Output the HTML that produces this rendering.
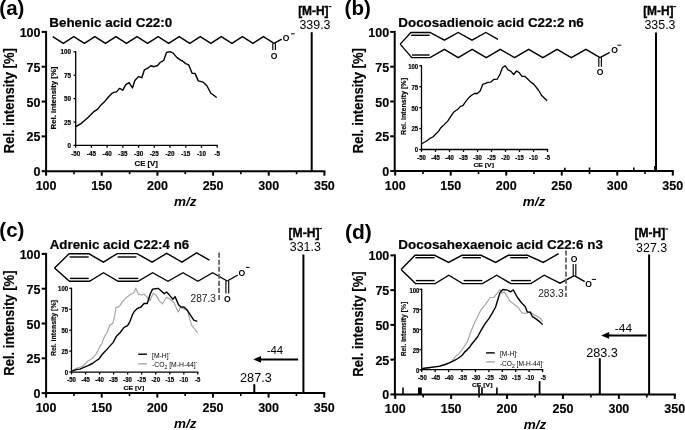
<!DOCTYPE html>
<html><head><meta charset="utf-8"><style>
html,body{margin:0;padding:0;background:#fff;}
svg{display:block;font-family:"Liberation Sans", sans-serif;will-change:transform;}
</style></head><body>
<svg width="685" height="430" viewBox="0 0 685 430">
<rect width="685" height="430" fill="#fff"/>
<text x="-0.70" y="15.30" font-size="20.5" text-anchor="start" font-weight="bold" font-style="normal" fill="#000" >(a)</text>
<text x="49.30" y="26.80" font-size="13.4" font-weight="bold" font-style="normal" fill="#000" textLength="122.95" lengthAdjust="spacingAndGlyphs" stroke="#000" stroke-width="0.2">Behenic acid C22:0</text>
<line x1="46.10" y1="30.90" x2="46.10" y2="172.20" stroke="#000" stroke-width="2.0" />
<line x1="41.60" y1="171.20" x2="46.10" y2="171.20" stroke="#000" stroke-width="2.0" />
<text x="40.50" y="176.20" font-size="12.5" text-anchor="end" font-weight="bold" font-style="normal" fill="#000" stroke="#000" stroke-width="0.15">0</text>
<line x1="41.60" y1="136.38" x2="46.10" y2="136.38" stroke="#000" stroke-width="2.0" />
<text x="40.50" y="141.38" font-size="12.5" text-anchor="end" font-weight="bold" font-style="normal" fill="#000" stroke="#000" stroke-width="0.15">25</text>
<line x1="41.60" y1="101.55" x2="46.10" y2="101.55" stroke="#000" stroke-width="2.0" />
<text x="40.50" y="106.55" font-size="12.5" text-anchor="end" font-weight="bold" font-style="normal" fill="#000" stroke="#000" stroke-width="0.15">50</text>
<line x1="41.60" y1="66.73" x2="46.10" y2="66.73" stroke="#000" stroke-width="2.0" />
<text x="40.50" y="71.73" font-size="12.5" text-anchor="end" font-weight="bold" font-style="normal" fill="#000" stroke="#000" stroke-width="0.15">75</text>
<line x1="41.60" y1="31.90" x2="46.10" y2="31.90" stroke="#000" stroke-width="2.0" />
<text x="40.50" y="36.90" font-size="12.5" text-anchor="end" font-weight="bold" font-style="normal" fill="#000" stroke="#000" stroke-width="0.15">100</text>
<line x1="45.10" y1="171.20" x2="325.40" y2="171.20" stroke="#000" stroke-width="2.0" />
<line x1="46.10" y1="171.20" x2="46.10" y2="175.70" stroke="#000" stroke-width="2.0" />
<text x="46.10" y="189.70" font-size="12.5" text-anchor="middle" font-weight="bold" font-style="normal" fill="#000" stroke="#000" stroke-width="0.15">100</text>
<line x1="73.93" y1="171.20" x2="73.93" y2="174.20" stroke="#000" stroke-width="1.6" />
<line x1="101.76" y1="171.20" x2="101.76" y2="175.70" stroke="#000" stroke-width="2.0" />
<text x="101.76" y="189.70" font-size="12.5" text-anchor="middle" font-weight="bold" font-style="normal" fill="#000" stroke="#000" stroke-width="0.15">150</text>
<line x1="129.59" y1="171.20" x2="129.59" y2="174.20" stroke="#000" stroke-width="1.6" />
<line x1="157.42" y1="171.20" x2="157.42" y2="175.70" stroke="#000" stroke-width="2.0" />
<text x="157.42" y="189.70" font-size="12.5" text-anchor="middle" font-weight="bold" font-style="normal" fill="#000" stroke="#000" stroke-width="0.15">200</text>
<line x1="185.25" y1="171.20" x2="185.25" y2="174.20" stroke="#000" stroke-width="1.6" />
<line x1="213.08" y1="171.20" x2="213.08" y2="175.70" stroke="#000" stroke-width="2.0" />
<text x="213.08" y="189.70" font-size="12.5" text-anchor="middle" font-weight="bold" font-style="normal" fill="#000" stroke="#000" stroke-width="0.15">250</text>
<line x1="240.91" y1="171.20" x2="240.91" y2="174.20" stroke="#000" stroke-width="1.6" />
<line x1="268.74" y1="171.20" x2="268.74" y2="175.70" stroke="#000" stroke-width="2.0" />
<text x="268.74" y="189.70" font-size="12.5" text-anchor="middle" font-weight="bold" font-style="normal" fill="#000" stroke="#000" stroke-width="0.15">300</text>
<line x1="296.57" y1="171.20" x2="296.57" y2="174.20" stroke="#000" stroke-width="1.6" />
<line x1="324.40" y1="171.20" x2="324.40" y2="175.70" stroke="#000" stroke-width="2.0" />
<text x="324.40" y="189.70" font-size="12.5" text-anchor="middle" font-weight="bold" font-style="normal" fill="#000" stroke="#000" stroke-width="0.15">350</text>
<text x="185.25" y="205.90" font-size="13.5" text-anchor="middle" font-weight="bold" font-style="italic" fill="#000" >m/z</text>
<text x="-153.28" y="14.20" font-size="14" font-weight="bold" font-style="normal" fill="#000" textLength="105.09" lengthAdjust="spacingAndGlyphs" transform="rotate(-90)" stroke="#000" stroke-width="0.15">Rel. intensity [%]</text>
<polyline points="52.7,36.6 63.3,43.3 73.8,36.6 84.4,43.3 94.9,36.6 105.5,43.3 115.9,36.6 126.5,43.3 137.0,36.6 147.6,43.3 158.1,36.6 168.7,43.3 179.2,36.6 189.8,43.3 200.3,36.6 210.9,43.3 221.3,36.6 231.9,43.3 242.4,36.6 253.0,43.3 263.5,36.6 274.1,43.3" fill="none" stroke="#000" stroke-width="1.4" />
<line x1="272.80" y1="43.30" x2="272.80" y2="50.10" stroke="#000" stroke-width="1.15" />
<line x1="275.40" y1="43.30" x2="275.40" y2="50.10" stroke="#000" stroke-width="1.15" />
<line x1="274.10" y1="43.30" x2="281.70" y2="39.10" stroke="#000" stroke-width="1.4" />
<text x="274.10" y="59.00" font-size="8.6" text-anchor="middle" font-weight="bold" font-style="normal" fill="#000" >O</text>
<text x="286.00" y="41.00" font-size="8.6" text-anchor="middle" font-weight="bold" font-style="normal" fill="#000" >O</text>
<line x1="291.00" y1="33.80" x2="294.70" y2="33.80" stroke="#000" stroke-width="1.0" />
<line x1="311.70" y1="32.20" x2="311.70" y2="171.10" stroke="#000" stroke-width="2.0" />
<text x="298.14" y="15.30" font-size="12.3" font-weight="bold" font-style="normal" fill="#000" textLength="30.43" lengthAdjust="spacingAndGlyphs" stroke="#000" stroke-width="0.35">[M-H]</text>
<line x1="328.60" y1="6.60" x2="331.40" y2="6.60" stroke="#000" stroke-width="1.1" />
<text x="299.43" y="28.80" font-size="12" font-weight="normal" font-style="normal" fill="#000" textLength="31.09" lengthAdjust="spacingAndGlyphs" >339.3</text>
<line x1="75.70" y1="51.20" x2="75.70" y2="146.00" stroke="#000" stroke-width="1.3" />
<line x1="73.50" y1="145.40" x2="75.70" y2="145.40" stroke="#000" stroke-width="1.3" />
<text x="71.00" y="147.99" font-size="7.0" text-anchor="end" font-weight="bold" fill="#000" textLength="3.50" lengthAdjust="spacingAndGlyphs" stroke="#000" stroke-width="0.2">0</text>
<line x1="73.50" y1="122.00" x2="75.70" y2="122.00" stroke="#000" stroke-width="1.3" />
<text x="71.00" y="124.59" font-size="7.0" text-anchor="end" font-weight="bold" fill="#000" textLength="7.01" lengthAdjust="spacingAndGlyphs" stroke="#000" stroke-width="0.2">25</text>
<line x1="73.50" y1="98.60" x2="75.70" y2="98.60" stroke="#000" stroke-width="1.3" />
<text x="71.00" y="101.19" font-size="7.0" text-anchor="end" font-weight="bold" fill="#000" textLength="7.01" lengthAdjust="spacingAndGlyphs" stroke="#000" stroke-width="0.2">50</text>
<line x1="73.50" y1="75.20" x2="75.70" y2="75.20" stroke="#000" stroke-width="1.3" />
<text x="71.00" y="77.79" font-size="7.0" text-anchor="end" font-weight="bold" fill="#000" textLength="7.01" lengthAdjust="spacingAndGlyphs" stroke="#000" stroke-width="0.2">75</text>
<line x1="73.50" y1="51.80" x2="75.70" y2="51.80" stroke="#000" stroke-width="1.3" />
<text x="71.00" y="54.39" font-size="7.0" text-anchor="end" font-weight="bold" fill="#000" textLength="10.51" lengthAdjust="spacingAndGlyphs" stroke="#000" stroke-width="0.2">100</text>
<line x1="75.10" y1="145.40" x2="217.80" y2="145.40" stroke="#000" stroke-width="1.3" />
<line x1="75.70" y1="145.40" x2="75.70" y2="147.80" stroke="#000" stroke-width="1.3" />
<text x="75.70" y="156.00" font-size="7.0" text-anchor="middle" font-weight="bold" fill="#000" textLength="9.11" lengthAdjust="spacingAndGlyphs" stroke="#000" stroke-width="0.2">-50</text>
<line x1="91.42" y1="145.40" x2="91.42" y2="147.80" stroke="#000" stroke-width="1.3" />
<text x="91.42" y="156.00" font-size="7.0" text-anchor="middle" font-weight="bold" fill="#000" textLength="9.11" lengthAdjust="spacingAndGlyphs" stroke="#000" stroke-width="0.2">-45</text>
<line x1="107.14" y1="145.40" x2="107.14" y2="147.80" stroke="#000" stroke-width="1.3" />
<text x="107.14" y="156.00" font-size="7.0" text-anchor="middle" font-weight="bold" fill="#000" textLength="9.11" lengthAdjust="spacingAndGlyphs" stroke="#000" stroke-width="0.2">-40</text>
<line x1="122.87" y1="145.40" x2="122.87" y2="147.80" stroke="#000" stroke-width="1.3" />
<text x="122.87" y="156.00" font-size="7.0" text-anchor="middle" font-weight="bold" fill="#000" textLength="9.11" lengthAdjust="spacingAndGlyphs" stroke="#000" stroke-width="0.2">-35</text>
<line x1="138.59" y1="145.40" x2="138.59" y2="147.80" stroke="#000" stroke-width="1.3" />
<text x="138.59" y="156.00" font-size="7.0" text-anchor="middle" font-weight="bold" fill="#000" textLength="9.11" lengthAdjust="spacingAndGlyphs" stroke="#000" stroke-width="0.2">-30</text>
<line x1="154.31" y1="145.40" x2="154.31" y2="147.80" stroke="#000" stroke-width="1.3" />
<text x="154.31" y="156.00" font-size="7.0" text-anchor="middle" font-weight="bold" fill="#000" textLength="9.11" lengthAdjust="spacingAndGlyphs" stroke="#000" stroke-width="0.2">-25</text>
<line x1="170.03" y1="145.40" x2="170.03" y2="147.80" stroke="#000" stroke-width="1.3" />
<text x="170.03" y="156.00" font-size="7.0" text-anchor="middle" font-weight="bold" fill="#000" textLength="9.11" lengthAdjust="spacingAndGlyphs" stroke="#000" stroke-width="0.2">-20</text>
<line x1="185.76" y1="145.40" x2="185.76" y2="147.80" stroke="#000" stroke-width="1.3" />
<text x="185.76" y="156.00" font-size="7.0" text-anchor="middle" font-weight="bold" fill="#000" textLength="9.11" lengthAdjust="spacingAndGlyphs" stroke="#000" stroke-width="0.2">-15</text>
<line x1="201.48" y1="145.40" x2="201.48" y2="147.80" stroke="#000" stroke-width="1.3" />
<text x="201.48" y="156.00" font-size="7.0" text-anchor="middle" font-weight="bold" fill="#000" textLength="9.11" lengthAdjust="spacingAndGlyphs" stroke="#000" stroke-width="0.2">-10</text>
<line x1="217.20" y1="145.40" x2="217.20" y2="147.80" stroke="#000" stroke-width="1.3" />
<text x="217.20" y="156.00" font-size="7.0" text-anchor="middle" font-weight="bold" fill="#000" textLength="5.60" lengthAdjust="spacingAndGlyphs" stroke="#000" stroke-width="0.2">-5</text>
<text x="134.49" y="165.80" font-size="7.5" font-weight="bold" font-style="normal" fill="#000" textLength="23.44" lengthAdjust="spacingAndGlyphs" stroke="#000" stroke-width="0.15">CE [V]</text>
<text x="-129.43" y="56.30" font-size="7.5" font-weight="bold" font-style="normal" fill="#000" textLength="62.85" lengthAdjust="spacingAndGlyphs" transform="rotate(-90)" stroke="#000" stroke-width="0.15">Rel. intensity [%]</text>
<polyline points="75.9,126.7 81.4,123.3 88.0,117.4 93.5,111.9 97.7,109.1 101.0,104.9 104.7,101.6 108.4,97.0 112.1,93.3 113.7,92.4 116.5,91.9 119.5,88.4 122.8,90.2 125.8,84.7 129.1,82.6 132.5,87.9 134.9,80.5 138.4,76.6 141.8,77.7 144.4,69.8 147.7,68.2 150.9,65.8 154.2,66.7 157.6,65.5 160.1,62.5 163.7,60.4 166.5,52.4 169.7,51.7 172.9,52.9 176.8,57.4 180.6,60.1 182.5,61.0 185.7,63.6 188.7,64.8 192.1,73.2 195.0,73.4 198.3,80.9 203.0,82.1 206.9,85.7 210.7,93.0 216.7,97.5" fill="none" stroke="#000" stroke-width="1.4" stroke-linejoin="round"/>
<text x="344.60" y="15.30" font-size="20.5" text-anchor="start" font-weight="bold" font-style="normal" fill="#000" >(b)</text>
<text x="398.30" y="26.80" font-size="13.4" font-weight="bold" font-style="normal" fill="#000" textLength="185.49" lengthAdjust="spacingAndGlyphs" stroke="#000" stroke-width="0.2">Docosadienoic acid C22:2 n6</text>
<line x1="394.70" y1="30.90" x2="394.70" y2="172.10" stroke="#000" stroke-width="2.0" />
<line x1="390.20" y1="171.10" x2="394.70" y2="171.10" stroke="#000" stroke-width="2.0" />
<text x="389.10" y="176.10" font-size="12.5" text-anchor="end" font-weight="bold" font-style="normal" fill="#000" stroke="#000" stroke-width="0.15">0</text>
<line x1="390.20" y1="136.30" x2="394.70" y2="136.30" stroke="#000" stroke-width="2.0" />
<text x="389.10" y="141.30" font-size="12.5" text-anchor="end" font-weight="bold" font-style="normal" fill="#000" stroke="#000" stroke-width="0.15">25</text>
<line x1="390.20" y1="101.50" x2="394.70" y2="101.50" stroke="#000" stroke-width="2.0" />
<text x="389.10" y="106.50" font-size="12.5" text-anchor="end" font-weight="bold" font-style="normal" fill="#000" stroke="#000" stroke-width="0.15">50</text>
<line x1="390.20" y1="66.70" x2="394.70" y2="66.70" stroke="#000" stroke-width="2.0" />
<text x="389.10" y="71.70" font-size="12.5" text-anchor="end" font-weight="bold" font-style="normal" fill="#000" stroke="#000" stroke-width="0.15">75</text>
<line x1="390.20" y1="31.90" x2="394.70" y2="31.90" stroke="#000" stroke-width="2.0" />
<text x="389.10" y="36.90" font-size="12.5" text-anchor="end" font-weight="bold" font-style="normal" fill="#000" stroke="#000" stroke-width="0.15">100</text>
<line x1="394.20" y1="171.10" x2="673.80" y2="171.10" stroke="#000" stroke-width="2.0" />
<line x1="395.20" y1="171.10" x2="395.20" y2="175.60" stroke="#000" stroke-width="2.0" />
<text x="395.20" y="189.60" font-size="12.5" text-anchor="middle" font-weight="bold" font-style="normal" fill="#000" stroke="#000" stroke-width="0.15">100</text>
<line x1="422.96" y1="171.10" x2="422.96" y2="174.10" stroke="#000" stroke-width="1.6" />
<line x1="450.72" y1="171.10" x2="450.72" y2="175.60" stroke="#000" stroke-width="2.0" />
<text x="450.72" y="189.60" font-size="12.5" text-anchor="middle" font-weight="bold" font-style="normal" fill="#000" stroke="#000" stroke-width="0.15">150</text>
<line x1="478.48" y1="171.10" x2="478.48" y2="174.10" stroke="#000" stroke-width="1.6" />
<line x1="506.24" y1="171.10" x2="506.24" y2="175.60" stroke="#000" stroke-width="2.0" />
<text x="506.24" y="189.60" font-size="12.5" text-anchor="middle" font-weight="bold" font-style="normal" fill="#000" stroke="#000" stroke-width="0.15">200</text>
<line x1="534.00" y1="171.10" x2="534.00" y2="174.10" stroke="#000" stroke-width="1.6" />
<line x1="561.76" y1="171.10" x2="561.76" y2="175.60" stroke="#000" stroke-width="2.0" />
<text x="561.76" y="189.60" font-size="12.5" text-anchor="middle" font-weight="bold" font-style="normal" fill="#000" stroke="#000" stroke-width="0.15">250</text>
<line x1="589.52" y1="171.10" x2="589.52" y2="174.10" stroke="#000" stroke-width="1.6" />
<line x1="617.28" y1="171.10" x2="617.28" y2="175.60" stroke="#000" stroke-width="2.0" />
<text x="617.28" y="189.60" font-size="12.5" text-anchor="middle" font-weight="bold" font-style="normal" fill="#000" stroke="#000" stroke-width="0.15">300</text>
<line x1="645.04" y1="171.10" x2="645.04" y2="174.10" stroke="#000" stroke-width="1.6" />
<line x1="672.80" y1="171.10" x2="672.80" y2="175.60" stroke="#000" stroke-width="2.0" />
<text x="672.80" y="189.60" font-size="12.5" text-anchor="middle" font-weight="bold" font-style="normal" fill="#000" stroke="#000" stroke-width="0.15">350</text>
<text x="534.00" y="205.80" font-size="13.5" text-anchor="middle" font-weight="bold" font-style="italic" fill="#000" >m/z</text>
<text x="-153.28" y="363.10" font-size="14" font-weight="bold" font-style="normal" fill="#000" textLength="105.09" lengthAdjust="spacingAndGlyphs" transform="rotate(-90)" stroke="#000" stroke-width="0.15">Rel. intensity [%]</text>
<polyline points="400.2,44.1 410.9,32.5 430.0,32.5 444.4,40.1 458.2,32.5 472.0,40.1 485.8,32.5 498.0,39.4" fill="none" stroke="#000" stroke-width="1.4" />
<line x1="411.20" y1="35.30" x2="429.60" y2="35.30" stroke="#000" stroke-width="1.4" />
<polyline points="400.2,44.1 411.8,57.6 430.0,57.6 444.4,49.3 458.2,57.6 472.2,49.3 486.2,57.6 500.3,49.3 514.5,57.6 528.7,49.3 542.9,57.6 557.1,49.3 571.3,57.6 585.9,49.3 600.1,57.6" fill="none" stroke="#000" stroke-width="1.4" />
<line x1="412.00" y1="55.00" x2="429.60" y2="55.00" stroke="#000" stroke-width="1.4" />
<line x1="598.80" y1="57.60" x2="598.80" y2="66.80" stroke="#000" stroke-width="1.15" />
<line x1="601.40" y1="57.60" x2="601.40" y2="66.80" stroke="#000" stroke-width="1.15" />
<line x1="600.10" y1="57.60" x2="609.70" y2="52.30" stroke="#000" stroke-width="1.4" />
<text x="600.10" y="75.00" font-size="8.6" text-anchor="middle" font-weight="bold" font-style="normal" fill="#000" >O</text>
<text x="614.50" y="53.20" font-size="8.6" text-anchor="middle" font-weight="bold" font-style="normal" fill="#000" >O</text>
<line x1="617.40" y1="45.20" x2="621.20" y2="45.20" stroke="#000" stroke-width="1.0" />
<line x1="656.00" y1="32.60" x2="656.00" y2="171.00" stroke="#000" stroke-width="2.0" />
<line x1="564.90" y1="167.70" x2="564.90" y2="171.00" stroke="#000" stroke-width="1.6" />
<line x1="589.50" y1="167.50" x2="589.50" y2="171.00" stroke="#000" stroke-width="1.6" />
<line x1="633.80" y1="167.40" x2="633.80" y2="171.00" stroke="#000" stroke-width="1.6" />
<line x1="654.70" y1="166.00" x2="654.70" y2="171.00" stroke="#000" stroke-width="1.2" />
<text x="643.14" y="15.30" font-size="12.3" font-weight="bold" font-style="normal" fill="#000" textLength="30.43" lengthAdjust="spacingAndGlyphs" stroke="#000" stroke-width="0.35">[M-H]</text>
<line x1="673.20" y1="6.60" x2="676.00" y2="6.60" stroke="#000" stroke-width="1.1" />
<text x="644.43" y="28.80" font-size="12" font-weight="normal" font-style="normal" fill="#000" textLength="31.09" lengthAdjust="spacingAndGlyphs" >335.3</text>
<line x1="421.50" y1="65.20" x2="421.50" y2="150.10" stroke="#000" stroke-width="1.3" />
<line x1="419.30" y1="149.50" x2="421.50" y2="149.50" stroke="#000" stroke-width="1.3" />
<text x="418.20" y="152.36" font-size="6.8" text-anchor="end" font-weight="bold" fill="#000" textLength="3.33" lengthAdjust="spacingAndGlyphs" stroke="#000" stroke-width="0.2">0</text>
<line x1="419.30" y1="128.57" x2="421.50" y2="128.57" stroke="#000" stroke-width="1.3" />
<text x="418.20" y="131.43" font-size="6.8" text-anchor="end" font-weight="bold" fill="#000" textLength="6.66" lengthAdjust="spacingAndGlyphs" stroke="#000" stroke-width="0.2">25</text>
<line x1="419.30" y1="107.65" x2="421.50" y2="107.65" stroke="#000" stroke-width="1.3" />
<text x="418.20" y="110.51" font-size="6.8" text-anchor="end" font-weight="bold" fill="#000" textLength="6.66" lengthAdjust="spacingAndGlyphs" stroke="#000" stroke-width="0.2">50</text>
<line x1="419.30" y1="86.72" x2="421.50" y2="86.72" stroke="#000" stroke-width="1.3" />
<text x="418.20" y="89.58" font-size="6.8" text-anchor="end" font-weight="bold" fill="#000" textLength="6.66" lengthAdjust="spacingAndGlyphs" stroke="#000" stroke-width="0.2">75</text>
<line x1="419.30" y1="65.80" x2="421.50" y2="65.80" stroke="#000" stroke-width="1.3" />
<text x="418.20" y="68.66" font-size="6.8" text-anchor="end" font-weight="bold" fill="#000" textLength="9.98" lengthAdjust="spacingAndGlyphs" stroke="#000" stroke-width="0.2">100</text>
<line x1="420.90" y1="149.50" x2="548.10" y2="149.50" stroke="#000" stroke-width="1.3" />
<line x1="421.50" y1="149.50" x2="421.50" y2="151.90" stroke="#000" stroke-width="1.3" />
<text x="421.50" y="159.60" font-size="6.8" text-anchor="middle" font-weight="bold" fill="#000" textLength="8.65" lengthAdjust="spacingAndGlyphs" stroke="#000" stroke-width="0.2">-50</text>
<line x1="435.50" y1="149.50" x2="435.50" y2="151.90" stroke="#000" stroke-width="1.3" />
<text x="435.50" y="159.60" font-size="6.8" text-anchor="middle" font-weight="bold" fill="#000" textLength="8.65" lengthAdjust="spacingAndGlyphs" stroke="#000" stroke-width="0.2">-45</text>
<line x1="449.50" y1="149.50" x2="449.50" y2="151.90" stroke="#000" stroke-width="1.3" />
<text x="449.50" y="159.60" font-size="6.8" text-anchor="middle" font-weight="bold" fill="#000" textLength="8.65" lengthAdjust="spacingAndGlyphs" stroke="#000" stroke-width="0.2">-40</text>
<line x1="463.50" y1="149.50" x2="463.50" y2="151.90" stroke="#000" stroke-width="1.3" />
<text x="463.50" y="159.60" font-size="6.8" text-anchor="middle" font-weight="bold" fill="#000" textLength="8.65" lengthAdjust="spacingAndGlyphs" stroke="#000" stroke-width="0.2">-35</text>
<line x1="477.50" y1="149.50" x2="477.50" y2="151.90" stroke="#000" stroke-width="1.3" />
<text x="477.50" y="159.60" font-size="6.8" text-anchor="middle" font-weight="bold" fill="#000" textLength="8.65" lengthAdjust="spacingAndGlyphs" stroke="#000" stroke-width="0.2">-30</text>
<line x1="491.50" y1="149.50" x2="491.50" y2="151.90" stroke="#000" stroke-width="1.3" />
<text x="491.50" y="159.60" font-size="6.8" text-anchor="middle" font-weight="bold" fill="#000" textLength="8.65" lengthAdjust="spacingAndGlyphs" stroke="#000" stroke-width="0.2">-25</text>
<line x1="505.50" y1="149.50" x2="505.50" y2="151.90" stroke="#000" stroke-width="1.3" />
<text x="505.50" y="159.60" font-size="6.8" text-anchor="middle" font-weight="bold" fill="#000" textLength="8.65" lengthAdjust="spacingAndGlyphs" stroke="#000" stroke-width="0.2">-20</text>
<line x1="519.50" y1="149.50" x2="519.50" y2="151.90" stroke="#000" stroke-width="1.3" />
<text x="519.50" y="159.60" font-size="6.8" text-anchor="middle" font-weight="bold" fill="#000" textLength="8.65" lengthAdjust="spacingAndGlyphs" stroke="#000" stroke-width="0.2">-15</text>
<line x1="533.50" y1="149.50" x2="533.50" y2="151.90" stroke="#000" stroke-width="1.3" />
<text x="533.50" y="159.60" font-size="6.8" text-anchor="middle" font-weight="bold" fill="#000" textLength="8.65" lengthAdjust="spacingAndGlyphs" stroke="#000" stroke-width="0.2">-10</text>
<line x1="547.50" y1="149.50" x2="547.50" y2="151.90" stroke="#000" stroke-width="1.3" />
<text x="547.50" y="159.60" font-size="6.8" text-anchor="middle" font-weight="bold" fill="#000" textLength="5.32" lengthAdjust="spacingAndGlyphs" stroke="#000" stroke-width="0.2">-5</text>
<text x="473.43" y="167.20" font-size="6.2" font-weight="bold" font-style="normal" fill="#000" textLength="20.55" lengthAdjust="spacingAndGlyphs" stroke="#000" stroke-width="0.15">CE [V]</text>
<text x="-134.98" y="405.60" font-size="6.8" font-weight="bold" font-style="normal" fill="#000" textLength="56.96" lengthAdjust="spacingAndGlyphs" transform="rotate(-90)" stroke="#000" stroke-width="0.15">Rel. intensity [%]</text>
<polyline points="421.7,143.8 425.8,141.5 429.9,138.4 432.8,137.0 436.3,133.5 438.6,131.2 440.9,127.7 444.4,124.4 447.9,120.9 450.8,116.3 453.7,112.2 455.5,110.7 457.8,109.3 460.5,106.4 462.9,105.7 465.8,101.3 468.7,97.8 471.6,95.2 474.5,93.5 477.4,93.5 480.3,90.8 482.7,84.4 485.0,83.6 487.9,82.3 490.8,82.1 493.7,79.5 497.2,79.2 500.1,74.0 502.4,67.8 505.2,65.8 508.1,69.9 511.0,71.4 513.7,74.5 516.5,71.0 519.2,72.6 521.9,76.3 524.7,76.3 527.9,79.2 530.8,82.1 533.7,84.1 538.4,90.0 541.9,95.8 547.1,100.7" fill="none" stroke="#000" stroke-width="1.3" stroke-linejoin="round"/>
<text x="-0.70" y="237.20" font-size="20.5" text-anchor="start" font-weight="bold" font-style="normal" fill="#000" >(c)</text>
<text x="49.67" y="248.80" font-size="13.4" font-weight="bold" font-style="normal" fill="#000" textLength="139.62" lengthAdjust="spacingAndGlyphs" stroke="#000" stroke-width="0.2">Adrenic acid C22:4 n6</text>
<line x1="46.10" y1="252.90" x2="46.10" y2="394.10" stroke="#000" stroke-width="2.0" />
<line x1="41.60" y1="393.10" x2="46.10" y2="393.10" stroke="#000" stroke-width="2.0" />
<text x="40.50" y="398.10" font-size="12.5" text-anchor="end" font-weight="bold" font-style="normal" fill="#000" stroke="#000" stroke-width="0.15">0</text>
<line x1="41.60" y1="358.30" x2="46.10" y2="358.30" stroke="#000" stroke-width="2.0" />
<text x="40.50" y="363.30" font-size="12.5" text-anchor="end" font-weight="bold" font-style="normal" fill="#000" stroke="#000" stroke-width="0.15">25</text>
<line x1="41.60" y1="323.50" x2="46.10" y2="323.50" stroke="#000" stroke-width="2.0" />
<text x="40.50" y="328.50" font-size="12.5" text-anchor="end" font-weight="bold" font-style="normal" fill="#000" stroke="#000" stroke-width="0.15">50</text>
<line x1="41.60" y1="288.70" x2="46.10" y2="288.70" stroke="#000" stroke-width="2.0" />
<text x="40.50" y="293.70" font-size="12.5" text-anchor="end" font-weight="bold" font-style="normal" fill="#000" stroke="#000" stroke-width="0.15">75</text>
<line x1="41.60" y1="253.90" x2="46.10" y2="253.90" stroke="#000" stroke-width="2.0" />
<text x="40.50" y="258.90" font-size="12.5" text-anchor="end" font-weight="bold" font-style="normal" fill="#000" stroke="#000" stroke-width="0.15">100</text>
<line x1="45.10" y1="393.10" x2="325.20" y2="393.10" stroke="#000" stroke-width="2.0" />
<line x1="46.10" y1="393.10" x2="46.10" y2="397.60" stroke="#000" stroke-width="2.0" />
<text x="46.10" y="411.60" font-size="12.5" text-anchor="middle" font-weight="bold" font-style="normal" fill="#000" stroke="#000" stroke-width="0.15">100</text>
<line x1="73.91" y1="393.10" x2="73.91" y2="396.10" stroke="#000" stroke-width="1.6" />
<line x1="101.72" y1="393.10" x2="101.72" y2="397.60" stroke="#000" stroke-width="2.0" />
<text x="101.72" y="411.60" font-size="12.5" text-anchor="middle" font-weight="bold" font-style="normal" fill="#000" stroke="#000" stroke-width="0.15">150</text>
<line x1="129.53" y1="393.10" x2="129.53" y2="396.10" stroke="#000" stroke-width="1.6" />
<line x1="157.34" y1="393.10" x2="157.34" y2="397.60" stroke="#000" stroke-width="2.0" />
<text x="157.34" y="411.60" font-size="12.5" text-anchor="middle" font-weight="bold" font-style="normal" fill="#000" stroke="#000" stroke-width="0.15">200</text>
<line x1="185.15" y1="393.10" x2="185.15" y2="396.10" stroke="#000" stroke-width="1.6" />
<line x1="212.96" y1="393.10" x2="212.96" y2="397.60" stroke="#000" stroke-width="2.0" />
<text x="212.96" y="411.60" font-size="12.5" text-anchor="middle" font-weight="bold" font-style="normal" fill="#000" stroke="#000" stroke-width="0.15">250</text>
<line x1="240.77" y1="393.10" x2="240.77" y2="396.10" stroke="#000" stroke-width="1.6" />
<line x1="268.58" y1="393.10" x2="268.58" y2="397.60" stroke="#000" stroke-width="2.0" />
<text x="268.58" y="411.60" font-size="12.5" text-anchor="middle" font-weight="bold" font-style="normal" fill="#000" stroke="#000" stroke-width="0.15">300</text>
<line x1="296.39" y1="393.10" x2="296.39" y2="396.10" stroke="#000" stroke-width="1.6" />
<line x1="324.20" y1="393.10" x2="324.20" y2="397.60" stroke="#000" stroke-width="2.0" />
<text x="324.20" y="411.60" font-size="12.5" text-anchor="middle" font-weight="bold" font-style="normal" fill="#000" stroke="#000" stroke-width="0.15">350</text>
<text x="185.15" y="427.80" font-size="13.5" text-anchor="middle" font-weight="bold" font-style="italic" fill="#000" >m/z</text>
<text x="-375.78" y="14.20" font-size="14" font-weight="bold" font-style="normal" fill="#000" textLength="105.29" lengthAdjust="spacingAndGlyphs" transform="rotate(-90)" stroke="#000" stroke-width="0.15">Rel. intensity [%]</text>
<polyline points="54.5,267.9 69.1,253.8 89.1,253.8 103.4,262.2 117.2,253.6 137.0,253.6 152.1,262.2 166.7,253.3 182.0,262.2 196.6,252.8 209.4,260.2" fill="none" stroke="#000" stroke-width="1.4" />
<line x1="69.60" y1="257.00" x2="88.70" y2="257.00" stroke="#000" stroke-width="1.4" />
<line x1="117.60" y1="257.00" x2="136.40" y2="257.00" stroke="#000" stroke-width="1.4" />
<polyline points="54.5,267.9 69.5,281.3 89.5,281.3 103.5,272.7 118.1,281.3 138.1,281.3 152.6,272.7 168.0,281.3 183.0,272.7 197.9,281.3 212.6,272.7 227.3,281.0" fill="none" stroke="#000" stroke-width="1.4" />
<line x1="69.90" y1="278.40" x2="88.70" y2="278.40" stroke="#000" stroke-width="1.4" />
<line x1="118.50" y1="278.40" x2="138.30" y2="278.40" stroke="#000" stroke-width="1.4" />
<line x1="225.90" y1="281.00" x2="225.90" y2="293.60" stroke="#000" stroke-width="1.15" />
<line x1="228.70" y1="281.00" x2="228.70" y2="293.60" stroke="#000" stroke-width="1.15" />
<line x1="227.30" y1="281.00" x2="237.80" y2="275.00" stroke="#000" stroke-width="1.4" />
<text x="227.30" y="301.90" font-size="8.6" text-anchor="middle" font-weight="bold" font-style="normal" fill="#000" >O</text>
<text x="241.90" y="275.60" font-size="8.6" text-anchor="middle" font-weight="bold" font-style="normal" fill="#000" >O</text>
<line x1="246.00" y1="267.40" x2="249.60" y2="267.40" stroke="#000" stroke-width="1.0" />
<line x1="219.10" y1="252.60" x2="219.10" y2="301.60" stroke="#6a6a6a" stroke-width="1.9" stroke-dasharray="5.1 1.95"/>
<text x="190.49" y="301.90" font-size="10" font-weight="normal" font-style="normal" fill="#222" textLength="25.44" lengthAdjust="spacingAndGlyphs" >287.3</text>
<line x1="303.40" y1="254.50" x2="303.40" y2="393.10" stroke="#000" stroke-width="2.0" />
<line x1="254.30" y1="384.20" x2="254.30" y2="393.10" stroke="#000" stroke-width="2.0" />
<text x="288.53" y="237.20" font-size="12.3" font-weight="bold" font-style="normal" fill="#000" textLength="31.06" lengthAdjust="spacingAndGlyphs" stroke="#000" stroke-width="0.35">[M-H]</text>
<line x1="319.30" y1="228.60" x2="321.90" y2="228.60" stroke="#000" stroke-width="1.1" />
<text x="289.73" y="251.10" font-size="12" font-weight="normal" font-style="normal" fill="#000" textLength="31.09" lengthAdjust="spacingAndGlyphs" >331.3</text>
<text x="240.07" y="381.70" font-size="12" font-weight="normal" font-style="normal" fill="#000" textLength="31.77" lengthAdjust="spacingAndGlyphs" >287.3</text>
<line x1="298.10" y1="359.40" x2="259.50" y2="359.40" stroke="#000" stroke-width="2.0" />
<polygon points="253.1,359.4 261.0,356.1 261.0,362.7" fill="#000"/>
<text x="266.69" y="353.70" font-size="11" font-weight="normal" font-style="normal" fill="#000" textLength="16.53" lengthAdjust="spacingAndGlyphs" >-44</text>
<line x1="71.50" y1="287.70" x2="71.50" y2="372.70" stroke="#000" stroke-width="1.3" />
<line x1="69.30" y1="372.10" x2="71.50" y2="372.10" stroke="#000" stroke-width="1.3" />
<text x="68.10" y="374.96" font-size="6.8" text-anchor="end" font-weight="bold" fill="#000" textLength="3.33" lengthAdjust="spacingAndGlyphs" stroke="#000" stroke-width="0.2">0</text>
<line x1="69.30" y1="351.15" x2="71.50" y2="351.15" stroke="#000" stroke-width="1.3" />
<text x="68.10" y="354.01" font-size="6.8" text-anchor="end" font-weight="bold" fill="#000" textLength="6.66" lengthAdjust="spacingAndGlyphs" stroke="#000" stroke-width="0.2">25</text>
<line x1="69.30" y1="330.20" x2="71.50" y2="330.20" stroke="#000" stroke-width="1.3" />
<text x="68.10" y="333.06" font-size="6.8" text-anchor="end" font-weight="bold" fill="#000" textLength="6.66" lengthAdjust="spacingAndGlyphs" stroke="#000" stroke-width="0.2">50</text>
<line x1="69.30" y1="309.25" x2="71.50" y2="309.25" stroke="#000" stroke-width="1.3" />
<text x="68.10" y="312.11" font-size="6.8" text-anchor="end" font-weight="bold" fill="#000" textLength="6.66" lengthAdjust="spacingAndGlyphs" stroke="#000" stroke-width="0.2">75</text>
<line x1="69.30" y1="288.30" x2="71.50" y2="288.30" stroke="#000" stroke-width="1.3" />
<text x="68.10" y="291.16" font-size="6.8" text-anchor="end" font-weight="bold" fill="#000" textLength="9.98" lengthAdjust="spacingAndGlyphs" stroke="#000" stroke-width="0.2">100</text>
<line x1="70.90" y1="372.10" x2="198.40" y2="372.10" stroke="#000" stroke-width="1.3" />
<line x1="71.50" y1="372.10" x2="71.50" y2="374.50" stroke="#000" stroke-width="1.3" />
<text x="71.50" y="382.00" font-size="6.8" text-anchor="middle" font-weight="bold" fill="#000" textLength="8.65" lengthAdjust="spacingAndGlyphs" stroke="#000" stroke-width="0.2">-50</text>
<line x1="85.53" y1="372.10" x2="85.53" y2="374.50" stroke="#000" stroke-width="1.3" />
<text x="85.53" y="382.00" font-size="6.8" text-anchor="middle" font-weight="bold" fill="#000" textLength="8.65" lengthAdjust="spacingAndGlyphs" stroke="#000" stroke-width="0.2">-45</text>
<line x1="99.57" y1="372.10" x2="99.57" y2="374.50" stroke="#000" stroke-width="1.3" />
<text x="99.57" y="382.00" font-size="6.8" text-anchor="middle" font-weight="bold" fill="#000" textLength="8.65" lengthAdjust="spacingAndGlyphs" stroke="#000" stroke-width="0.2">-40</text>
<line x1="113.60" y1="372.10" x2="113.60" y2="374.50" stroke="#000" stroke-width="1.3" />
<text x="113.60" y="382.00" font-size="6.8" text-anchor="middle" font-weight="bold" fill="#000" textLength="8.65" lengthAdjust="spacingAndGlyphs" stroke="#000" stroke-width="0.2">-35</text>
<line x1="127.63" y1="372.10" x2="127.63" y2="374.50" stroke="#000" stroke-width="1.3" />
<text x="127.63" y="382.00" font-size="6.8" text-anchor="middle" font-weight="bold" fill="#000" textLength="8.65" lengthAdjust="spacingAndGlyphs" stroke="#000" stroke-width="0.2">-30</text>
<line x1="141.67" y1="372.10" x2="141.67" y2="374.50" stroke="#000" stroke-width="1.3" />
<text x="141.67" y="382.00" font-size="6.8" text-anchor="middle" font-weight="bold" fill="#000" textLength="8.65" lengthAdjust="spacingAndGlyphs" stroke="#000" stroke-width="0.2">-25</text>
<line x1="155.70" y1="372.10" x2="155.70" y2="374.50" stroke="#000" stroke-width="1.3" />
<text x="155.70" y="382.00" font-size="6.8" text-anchor="middle" font-weight="bold" fill="#000" textLength="8.65" lengthAdjust="spacingAndGlyphs" stroke="#000" stroke-width="0.2">-20</text>
<line x1="169.73" y1="372.10" x2="169.73" y2="374.50" stroke="#000" stroke-width="1.3" />
<text x="169.73" y="382.00" font-size="6.8" text-anchor="middle" font-weight="bold" fill="#000" textLength="8.65" lengthAdjust="spacingAndGlyphs" stroke="#000" stroke-width="0.2">-15</text>
<line x1="183.77" y1="372.10" x2="183.77" y2="374.50" stroke="#000" stroke-width="1.3" />
<text x="183.77" y="382.00" font-size="6.8" text-anchor="middle" font-weight="bold" fill="#000" textLength="8.65" lengthAdjust="spacingAndGlyphs" stroke="#000" stroke-width="0.2">-10</text>
<line x1="197.80" y1="372.10" x2="197.80" y2="374.50" stroke="#000" stroke-width="1.3" />
<text x="197.80" y="382.00" font-size="6.8" text-anchor="middle" font-weight="bold" fill="#000" textLength="5.32" lengthAdjust="spacingAndGlyphs" stroke="#000" stroke-width="0.2">-5</text>
<text x="123.63" y="389.60" font-size="6.2" font-weight="bold" font-style="normal" fill="#000" textLength="20.55" lengthAdjust="spacingAndGlyphs" stroke="#000" stroke-width="0.15">CE [V]</text>
<text x="-356.07" y="55.80" font-size="6.8" font-weight="bold" font-style="normal" fill="#000" textLength="55.95" lengthAdjust="spacingAndGlyphs" transform="rotate(-90)" stroke="#000" stroke-width="0.15">Rel. intensity [%]</text>
<polyline points="71.8,370.9 76.3,368.4 79.8,367.3 82.6,366.3 85.3,363.8 88.1,360.7 90.9,359.3 93.7,357.2 95.8,354.4 97.9,350.6 100.0,346.4 102.0,343.7 103.2,339.3 107.0,332.3 110.2,324.6 112.8,323.4 114.7,315.7 116.0,307.4 119.2,306.7 122.4,301.6 126.2,297.8 130.7,294.2 133.9,292.7 135.8,288.2 138.4,294.2 141.6,295.0 144.1,294.0 146.7,296.9 149.7,300.7 153.1,293.4 156.0,295.1 159.0,300.3 162.4,303.8 166.5,297.2 170.0,299.2 174.1,302.7 178.1,312.0 180.5,307.3 184.5,309.1 187.3,310.5 188.6,314.9 191.5,325.1 193.6,327.7 197.6,333.0" fill="none" stroke="#a6a6a6" stroke-width="1.2" stroke-linejoin="round"/>
<polyline points="71.8,371.2 77.0,369.4 79.8,369.1 83.9,367.3 88.1,365.6 92.3,363.5 95.8,361.0 99.3,358.6 101.4,355.5 103.5,353.0 104.9,351.6 107.8,348.4 113.0,342.6 116.5,336.2 120.0,332.7 124.1,327.4 127.6,325.7 129.9,321.6 132.8,314.1 134.5,311.2 137.1,308.7 140.9,307.0 144.1,303.5 147.3,303.5 150.2,294.0 152.6,289.1 155.5,288.7 158.4,288.4 161.3,291.0 164.2,293.7 166.5,292.0 169.4,295.1 172.9,299.2 175.0,296.6 178.7,305.0 181.0,307.1 184.0,307.0 186.9,309.7 190.3,314.9 193.8,320.1 197.3,321.3" fill="none" stroke="#000" stroke-width="1.4" stroke-linejoin="round"/>
<line x1="138.20" y1="354.20" x2="146.90" y2="354.20" stroke="#000" stroke-width="1.4" />
<line x1="138.20" y1="363.80" x2="146.90" y2="363.80" stroke="#b4b4b4" stroke-width="1.6" />
<text x="152.00" y="357.70" font-size="6.8" fill="#000">[M-H]<tspan font-size="4.42" dy="-3.06">-</tspan></text>
<text x="152.00" y="367.40" font-size="6.8" fill="#000">-CO<tspan font-size="5.10" dy="2.04">2</tspan><tspan dy="-2.04"> [M-H-44]</tspan><tspan font-size="4.42" dy="-3.06">-</tspan></text>
<text x="345.00" y="238.90" font-size="21" text-anchor="start" font-weight="bold" font-style="normal" fill="#000" >(d)</text>
<text x="398.29" y="249.10" font-size="13.4" font-weight="bold" font-style="normal" fill="#000" textLength="204.70" lengthAdjust="spacingAndGlyphs" stroke="#000" stroke-width="0.2">Docosahexaenoic acid C22:6 n3</text>
<line x1="394.90" y1="254.40" x2="394.90" y2="395.40" stroke="#000" stroke-width="2.0" />
<line x1="390.40" y1="394.40" x2="394.90" y2="394.40" stroke="#000" stroke-width="2.0" />
<text x="389.30" y="399.40" font-size="12.5" text-anchor="end" font-weight="bold" font-style="normal" fill="#000" stroke="#000" stroke-width="0.15">0</text>
<line x1="390.40" y1="359.65" x2="394.90" y2="359.65" stroke="#000" stroke-width="2.0" />
<text x="389.30" y="364.65" font-size="12.5" text-anchor="end" font-weight="bold" font-style="normal" fill="#000" stroke="#000" stroke-width="0.15">25</text>
<line x1="390.40" y1="324.90" x2="394.90" y2="324.90" stroke="#000" stroke-width="2.0" />
<text x="389.30" y="329.90" font-size="12.5" text-anchor="end" font-weight="bold" font-style="normal" fill="#000" stroke="#000" stroke-width="0.15">50</text>
<line x1="390.40" y1="290.15" x2="394.90" y2="290.15" stroke="#000" stroke-width="2.0" />
<text x="389.30" y="295.15" font-size="12.5" text-anchor="end" font-weight="bold" font-style="normal" fill="#000" stroke="#000" stroke-width="0.15">75</text>
<line x1="390.40" y1="255.40" x2="394.90" y2="255.40" stroke="#000" stroke-width="2.0" />
<text x="389.30" y="260.40" font-size="12.5" text-anchor="end" font-weight="bold" font-style="normal" fill="#000" stroke="#000" stroke-width="0.15">100</text>
<line x1="394.20" y1="394.40" x2="675.80" y2="394.40" stroke="#000" stroke-width="2.0" />
<line x1="395.20" y1="394.40" x2="395.20" y2="398.90" stroke="#000" stroke-width="2.0" />
<text x="395.20" y="412.90" font-size="12.5" text-anchor="middle" font-weight="bold" font-style="normal" fill="#000" stroke="#000" stroke-width="0.15">100</text>
<line x1="423.16" y1="394.40" x2="423.16" y2="397.40" stroke="#000" stroke-width="1.6" />
<line x1="451.12" y1="394.40" x2="451.12" y2="398.90" stroke="#000" stroke-width="2.0" />
<text x="451.12" y="412.90" font-size="12.5" text-anchor="middle" font-weight="bold" font-style="normal" fill="#000" stroke="#000" stroke-width="0.15">150</text>
<line x1="479.08" y1="394.40" x2="479.08" y2="397.40" stroke="#000" stroke-width="1.6" />
<line x1="507.04" y1="394.40" x2="507.04" y2="398.90" stroke="#000" stroke-width="2.0" />
<text x="507.04" y="412.90" font-size="12.5" text-anchor="middle" font-weight="bold" font-style="normal" fill="#000" stroke="#000" stroke-width="0.15">200</text>
<line x1="535.00" y1="394.40" x2="535.00" y2="397.40" stroke="#000" stroke-width="1.6" />
<line x1="562.96" y1="394.40" x2="562.96" y2="398.90" stroke="#000" stroke-width="2.0" />
<text x="562.96" y="412.90" font-size="12.5" text-anchor="middle" font-weight="bold" font-style="normal" fill="#000" stroke="#000" stroke-width="0.15">250</text>
<line x1="590.92" y1="394.40" x2="590.92" y2="397.40" stroke="#000" stroke-width="1.6" />
<line x1="618.88" y1="394.40" x2="618.88" y2="398.90" stroke="#000" stroke-width="2.0" />
<text x="618.88" y="412.90" font-size="12.5" text-anchor="middle" font-weight="bold" font-style="normal" fill="#000" stroke="#000" stroke-width="0.15">300</text>
<line x1="646.84" y1="394.40" x2="646.84" y2="397.40" stroke="#000" stroke-width="1.6" />
<line x1="674.80" y1="394.40" x2="674.80" y2="398.90" stroke="#000" stroke-width="2.0" />
<text x="674.80" y="412.90" font-size="12.5" text-anchor="middle" font-weight="bold" font-style="normal" fill="#000" stroke="#000" stroke-width="0.15">350</text>
<text x="535.00" y="429.10" font-size="13.5" text-anchor="middle" font-weight="bold" font-style="italic" fill="#000" >m/z</text>
<text x="-376.68" y="363.10" font-size="14" font-weight="bold" font-style="normal" fill="#000" textLength="105.29" lengthAdjust="spacingAndGlyphs" transform="rotate(-90)" stroke="#000" stroke-width="0.15">Rel. intensity [%]</text>
<polyline points="401.1,269.6 415.1,255.3 434.6,255.3 448.6,262.4 461.9,255.3 481.0,255.3 495.6,262.4 508.2,255.3 527.5,255.3 543.3,262.4 558.6,253.7" fill="none" stroke="#000" stroke-width="1.4" />
<line x1="415.40" y1="257.70" x2="434.70" y2="257.70" stroke="#000" stroke-width="1.4" />
<line x1="462.40" y1="257.70" x2="480.90" y2="257.70" stroke="#000" stroke-width="1.4" />
<line x1="510.20" y1="257.70" x2="527.90" y2="257.70" stroke="#000" stroke-width="1.4" />
<polyline points="401.1,269.6 415.5,283.6 435.1,283.6 448.8,275.2 462.6,283.6 482.5,283.6 496.7,275.2 510.8,283.6 530.8,283.6 544.2,275.2 560.0,283.2 574.4,275.7" fill="none" stroke="#000" stroke-width="1.4" />
<line x1="415.90" y1="280.60" x2="434.70" y2="280.60" stroke="#000" stroke-width="1.4" />
<line x1="463.60" y1="280.60" x2="482.30" y2="280.60" stroke="#000" stroke-width="1.4" />
<line x1="511.10" y1="280.60" x2="530.90" y2="280.60" stroke="#000" stroke-width="1.4" />
<line x1="573.20" y1="275.70" x2="573.20" y2="263.90" stroke="#000" stroke-width="1.15" />
<line x1="575.80" y1="275.70" x2="575.80" y2="263.90" stroke="#000" stroke-width="1.15" />
<line x1="574.40" y1="275.70" x2="584.70" y2="281.60" stroke="#000" stroke-width="1.4" />
<text x="574.20" y="262.00" font-size="8.6" text-anchor="middle" font-weight="bold" font-style="normal" fill="#000" >O</text>
<text x="588.70" y="287.40" font-size="8.6" text-anchor="middle" font-weight="bold" font-style="normal" fill="#000" >O</text>
<line x1="591.80" y1="279.40" x2="596.00" y2="279.40" stroke="#000" stroke-width="1.0" />
<line x1="566.00" y1="250.40" x2="566.00" y2="297.00" stroke="#6a6a6a" stroke-width="1.9" stroke-dasharray="5.1 1.95"/>
<text x="538.19" y="296.70" font-size="10" font-weight="normal" font-style="normal" fill="#222" textLength="25.44" lengthAdjust="spacingAndGlyphs" >283.3</text>
<line x1="649.10" y1="254.50" x2="649.10" y2="394.40" stroke="#000" stroke-width="2.0" />
<line x1="599.80" y1="358.20" x2="599.80" y2="394.40" stroke="#000" stroke-width="2.0" />
<line x1="403.00" y1="387.50" x2="403.00" y2="394.40" stroke="#000" stroke-width="1.6" />
<line x1="419.90" y1="387.50" x2="419.90" y2="394.40" stroke="#000" stroke-width="3.8" />
<line x1="479.00" y1="386.80" x2="479.00" y2="394.40" stroke="#000" stroke-width="1.6" />
<line x1="482.00" y1="387.30" x2="482.00" y2="394.40" stroke="#000" stroke-width="1.6" />
<line x1="496.90" y1="387.50" x2="496.90" y2="394.40" stroke="#000" stroke-width="1.6" />
<line x1="539.60" y1="381.20" x2="539.60" y2="394.40" stroke="#000" stroke-width="1.8" />
<text x="634.54" y="237.40" font-size="12.3" font-weight="bold" font-style="normal" fill="#000" textLength="30.74" lengthAdjust="spacingAndGlyphs" stroke="#000" stroke-width="0.35">[M-H]</text>
<line x1="665.30" y1="229.00" x2="668.10" y2="229.00" stroke="#000" stroke-width="1.1" />
<text x="636.13" y="251.90" font-size="12" font-weight="normal" font-style="normal" fill="#000" textLength="31.09" lengthAdjust="spacingAndGlyphs" >327.3</text>
<text x="586.17" y="356.60" font-size="12" font-weight="normal" font-style="normal" fill="#000" textLength="31.67" lengthAdjust="spacingAndGlyphs" >283.3</text>
<line x1="646.80" y1="335.40" x2="607.50" y2="335.40" stroke="#000" stroke-width="2.0" />
<polygon points="601.2,335.4 609.1,332.1 609.1,338.7" fill="#000"/>
<text x="614.87" y="332.00" font-size="11" font-weight="normal" font-style="normal" fill="#000" textLength="17.17" lengthAdjust="spacingAndGlyphs" >-44</text>
<line x1="421.70" y1="288.70" x2="421.70" y2="370.30" stroke="#000" stroke-width="1.3" />
<line x1="419.50" y1="369.70" x2="421.70" y2="369.70" stroke="#000" stroke-width="1.3" />
<text x="419.40" y="373.10" font-size="6.8" text-anchor="end" font-weight="bold" fill="#000" textLength="3.33" lengthAdjust="spacingAndGlyphs" stroke="#000" stroke-width="0.2">0</text>
<line x1="419.50" y1="349.60" x2="421.70" y2="349.60" stroke="#000" stroke-width="1.3" />
<text x="419.40" y="353.00" font-size="6.8" text-anchor="end" font-weight="bold" fill="#000" textLength="6.66" lengthAdjust="spacingAndGlyphs" stroke="#000" stroke-width="0.2">25</text>
<line x1="419.50" y1="329.50" x2="421.70" y2="329.50" stroke="#000" stroke-width="1.3" />
<text x="419.40" y="332.90" font-size="6.8" text-anchor="end" font-weight="bold" fill="#000" textLength="6.66" lengthAdjust="spacingAndGlyphs" stroke="#000" stroke-width="0.2">50</text>
<line x1="419.50" y1="309.40" x2="421.70" y2="309.40" stroke="#000" stroke-width="1.3" />
<text x="419.40" y="312.80" font-size="6.8" text-anchor="end" font-weight="bold" fill="#000" textLength="6.66" lengthAdjust="spacingAndGlyphs" stroke="#000" stroke-width="0.2">75</text>
<line x1="419.50" y1="289.30" x2="421.70" y2="289.30" stroke="#000" stroke-width="1.3" />
<text x="419.40" y="292.70" font-size="6.8" text-anchor="end" font-weight="bold" fill="#000" textLength="9.98" lengthAdjust="spacingAndGlyphs" stroke="#000" stroke-width="0.2">100</text>
<line x1="421.10" y1="369.70" x2="543.20" y2="369.70" stroke="#000" stroke-width="1.3" />
<line x1="421.70" y1="369.70" x2="421.70" y2="372.10" stroke="#000" stroke-width="1.3" />
<text x="422.40" y="379.80" font-size="6.8" text-anchor="middle" font-weight="bold" fill="#000" textLength="8.65" lengthAdjust="spacingAndGlyphs" stroke="#000" stroke-width="0.2">-50</text>
<line x1="435.13" y1="369.70" x2="435.13" y2="372.10" stroke="#000" stroke-width="1.3" />
<text x="435.83" y="379.80" font-size="6.8" text-anchor="middle" font-weight="bold" fill="#000" textLength="8.65" lengthAdjust="spacingAndGlyphs" stroke="#000" stroke-width="0.2">-45</text>
<line x1="448.57" y1="369.70" x2="448.57" y2="372.10" stroke="#000" stroke-width="1.3" />
<text x="449.27" y="379.80" font-size="6.8" text-anchor="middle" font-weight="bold" fill="#000" textLength="8.65" lengthAdjust="spacingAndGlyphs" stroke="#000" stroke-width="0.2">-40</text>
<line x1="462.00" y1="369.70" x2="462.00" y2="372.10" stroke="#000" stroke-width="1.3" />
<text x="462.70" y="379.80" font-size="6.8" text-anchor="middle" font-weight="bold" fill="#000" textLength="8.65" lengthAdjust="spacingAndGlyphs" stroke="#000" stroke-width="0.2">-35</text>
<line x1="475.43" y1="369.70" x2="475.43" y2="372.10" stroke="#000" stroke-width="1.3" />
<text x="476.13" y="379.80" font-size="6.8" text-anchor="middle" font-weight="bold" fill="#000" textLength="8.65" lengthAdjust="spacingAndGlyphs" stroke="#000" stroke-width="0.2">-30</text>
<line x1="488.87" y1="369.70" x2="488.87" y2="372.10" stroke="#000" stroke-width="1.3" />
<text x="489.57" y="379.80" font-size="6.8" text-anchor="middle" font-weight="bold" fill="#000" textLength="8.65" lengthAdjust="spacingAndGlyphs" stroke="#000" stroke-width="0.2">-25</text>
<line x1="502.30" y1="369.70" x2="502.30" y2="372.10" stroke="#000" stroke-width="1.3" />
<text x="503.00" y="379.80" font-size="6.8" text-anchor="middle" font-weight="bold" fill="#000" textLength="8.65" lengthAdjust="spacingAndGlyphs" stroke="#000" stroke-width="0.2">-20</text>
<line x1="515.73" y1="369.70" x2="515.73" y2="372.10" stroke="#000" stroke-width="1.3" />
<text x="516.43" y="379.80" font-size="6.8" text-anchor="middle" font-weight="bold" fill="#000" textLength="8.65" lengthAdjust="spacingAndGlyphs" stroke="#000" stroke-width="0.2">-15</text>
<line x1="529.17" y1="369.70" x2="529.17" y2="372.10" stroke="#000" stroke-width="1.3" />
<text x="529.87" y="379.80" font-size="6.8" text-anchor="middle" font-weight="bold" fill="#000" textLength="8.65" lengthAdjust="spacingAndGlyphs" stroke="#000" stroke-width="0.2">-10</text>
<line x1="542.60" y1="369.70" x2="542.60" y2="372.10" stroke="#000" stroke-width="1.3" />
<text x="543.30" y="379.80" font-size="6.8" text-anchor="middle" font-weight="bold" fill="#000" textLength="5.32" lengthAdjust="spacingAndGlyphs" stroke="#000" stroke-width="0.2">-5</text>
<text x="471.93" y="387.20" font-size="6.2" font-weight="bold" font-style="normal" fill="#000" textLength="20.55" lengthAdjust="spacingAndGlyphs" stroke="#000" stroke-width="0.15">CE [V]</text>
<text x="-356.36" y="405.60" font-size="6.8" font-weight="bold" font-style="normal" fill="#000" textLength="54.53" lengthAdjust="spacingAndGlyphs" transform="rotate(-90)" stroke="#000" stroke-width="0.15">Rel. intensity [%]</text>
<polyline points="421.8,368.4 438.1,366.6 445.4,364.7 451.4,361.7 455.7,356.3 458.7,353.9 461.7,350.0 465.3,344.8 467.8,340.6 470.2,333.3 474.9,321.9 480.5,310.7 485.4,304.4 490.3,297.5 493.7,297.5 497.2,293.3 500.0,289.5 502.1,293.3 504.2,291.9 507.0,296.1 509.8,301.0 513.3,303.7 518.2,307.2 521.7,312.8 525.9,313.5 530.1,311.8 534.2,314.9 539.8,317.7 542.6,321.6" fill="none" stroke="#a6a6a6" stroke-width="1.2" stroke-linejoin="round"/>
<polyline points="421.8,368.6 428.6,367.7 434.6,366.9 439.8,366.1 445.0,364.5 449.3,362.8 453.6,360.9 457.9,358.5 462.2,355.3 464.8,351.9 466.9,350.1 469.9,347.0 471.2,344.7 477.5,337.0 480.9,330.7 485.1,323.7 489.3,318.2 492.1,313.3 495.6,307.0 497.7,300.0 500.0,292.6 502.8,289.5 507.7,290.1 510.5,291.9 513.3,289.8 517.5,297.5 521.7,303.0 525.2,306.5 527.3,312.1 530.1,312.1 532.2,316.3 536.3,319.1 539.8,321.9 542.6,324.4" fill="none" stroke="#000" stroke-width="1.4" stroke-linejoin="round"/>
<line x1="486.10" y1="352.90" x2="494.80" y2="352.90" stroke="#000" stroke-width="1.4" />
<line x1="486.10" y1="361.90" x2="494.80" y2="361.90" stroke="#b4b4b4" stroke-width="1.6" />
<text x="499.90" y="356.40" font-size="6.6" fill="#000">[M-H]<tspan font-size="4.29" dy="-2.97">-</tspan></text>
<text x="499.90" y="365.80" font-size="6.6" fill="#000">-CO<tspan font-size="4.95" dy="1.98">2</tspan><tspan dy="-1.98"> [M-H-44]</tspan><tspan font-size="4.29" dy="-2.97">-</tspan></text>
</svg></body></html>
